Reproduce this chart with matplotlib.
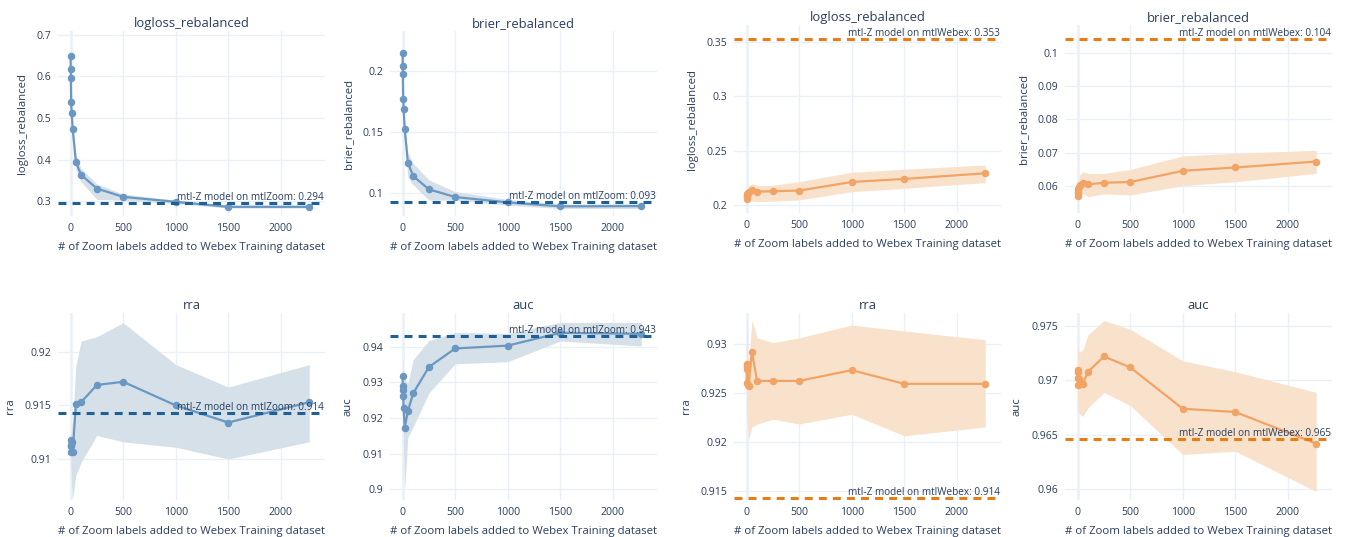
import matplotlib
matplotlib.use("Agg")
import matplotlib.pyplot as plt
import matplotlib.transforms as mtransforms
from matplotlib.ticker import FuncFormatter

plt.rcParams["font.family"] = ["Open Sans", "DejaVu Sans"]

# number of Zoom labels added
x_labels = [0, 1, 2, 5, 10, 20, 50, 100, 250, 500, 1000, 1500, 2270]

# --- evaluated on mtlZoom (blue) ---
zoom_logloss = [0.649, 0.618, 0.597, 0.538, 0.513, 0.473, 0.394, 0.363, 0.330, 0.310, 0.298, 0.286, 0.286]
zoom_logloss_hi = [0.652, 0.622, 0.602, 0.545, 0.522, 0.485, 0.412, 0.378, 0.341, 0.317, 0.302, 0.290, 0.290]
zoom_logloss_lo = [0.646, 0.614, 0.592, 0.531, 0.504, 0.461, 0.376, 0.346, 0.304, 0.302, 0.294, 0.283, 0.283]

zoom_brier = [0.2144, 0.2041, 0.1978, 0.1771, 0.1689, 0.1522, 0.1251, 0.1142, 0.1033, 0.0970, 0.0926, 0.0894, 0.0896]
zoom_brier_hi = [0.2155, 0.2055, 0.1995, 0.1795, 0.1720, 0.1570, 0.1330, 0.1245, 0.1110, 0.1014, 0.0950, 0.0912, 0.0915]
zoom_brier_lo = [0.2133, 0.2027, 0.1961, 0.1747, 0.1658, 0.1474, 0.1130, 0.1070, 0.0945, 0.0945, 0.0903, 0.0877, 0.0877]

zoom_rra = [0.9113, 0.9118, 0.9107, 0.9112, 0.9116, 0.9107, 0.9151, 0.9153, 0.9169, 0.9172, 0.9150, 0.9134, 0.9153]
zoom_rra_hi = [0.9120, 0.9125, 0.9118, 0.9125, 0.9130, 0.9135, 0.9187, 0.9210, 0.9214, 0.9227, 0.9188, 0.9167, 0.9188]
zoom_rra_lo = [0.9106, 0.9110, 0.9096, 0.9090, 0.9075, 0.9063, 0.9085, 0.9097, 0.9122, 0.9116, 0.9111, 0.9100, 0.9116]

zoom_auc = [0.9318, 0.9291, 0.9279, 0.9262, 0.9227, 0.9173, 0.9219, 0.9269, 0.9343, 0.9395, 0.9403, 0.9439, 0.9436]
zoom_auc_hi = [0.9363, 0.9350, 0.9340, 0.9330, 0.9320, 0.9310, 0.9297, 0.9363, 0.9417, 0.9440, 0.9437, 0.9468, 0.9468]
zoom_auc_lo = [0.9275, 0.9230, 0.9200, 0.9180, 0.9100, 0.9000, 0.9146, 0.9175, 0.9270, 0.9352, 0.9358, 0.9416, 0.9402]

# --- evaluated on mtlWebex (orange) ---
webex_logloss = [0.2052, 0.2070, 0.2085, 0.2100, 0.2110, 0.2120, 0.2138, 0.2122, 0.2126, 0.2132, 0.2211, 0.2239, 0.2291]
webex_logloss_hi = [0.2085, 0.2100, 0.2120, 0.2140, 0.2160, 0.2180, 0.2193, 0.2180, 0.2180, 0.2214, 0.2300, 0.2328, 0.2367]
webex_logloss_lo = [0.2020, 0.2040, 0.2050, 0.2060, 0.2065, 0.2065, 0.2035, 0.2030, 0.2035, 0.2046, 0.2122, 0.2153, 0.2205]

webex_brier = [0.0570, 0.0577, 0.0582, 0.0590, 0.0597, 0.0602, 0.0609, 0.0604, 0.0609, 0.0611, 0.0645, 0.0655, 0.0673]
webex_brier_hi = [0.0580, 0.0588, 0.0596, 0.0608, 0.0620, 0.0632, 0.0642, 0.0637, 0.0637, 0.0649, 0.0690, 0.0698, 0.0707]
webex_brier_lo = [0.0560, 0.0566, 0.0568, 0.0572, 0.0574, 0.0575, 0.0576, 0.0567, 0.0575, 0.0572, 0.0600, 0.0612, 0.0637]

webex_rra = [0.9260, 0.9279, 0.9274, 0.9277, 0.9258, 0.9257, 0.9292, 0.9262, 0.9262, 0.9262, 0.9273, 0.9259, 0.9259]
webex_rra_hi = [0.9322, 0.9320, 0.9315, 0.9310, 0.9290, 0.9280, 0.9324, 0.9306, 0.9301, 0.9306, 0.9319, 0.9313, 0.9304]
webex_rra_lo = [0.9235, 0.9238, 0.9230, 0.9225, 0.9215, 0.9202, 0.9215, 0.9218, 0.9223, 0.9218, 0.9228, 0.9206, 0.9215]

webex_auc = [0.9710, 0.9708, 0.9702, 0.9696, 0.9701, 0.9697, 0.9697, 0.9708, 0.9722, 0.9712, 0.9674, 0.9671, 0.9642]
webex_auc_hi = [0.9731, 0.9730, 0.9729, 0.9728, 0.9727, 0.9726, 0.9728, 0.9742, 0.9755, 0.9747, 0.9718, 0.9708, 0.9689]
webex_auc_lo = [0.9679, 0.9677, 0.9675, 0.9672, 0.9670, 0.9669, 0.9667, 0.9675, 0.9689, 0.9677, 0.9632, 0.9635, 0.9598]

# reference mtl-Z model scores
zoom_baseline = {"logloss_rebalanced": 0.2944, "brier_rebalanced": 0.0932, "rra": 0.9143, "auc": 0.9430}
webex_baseline = {"logloss_rebalanced": 0.3527, "brier_rebalanced": 0.1042, "rra": 0.91425, "auc": 0.9646}

TEXT = "#2a3f5f"
GRID = "#ebf0f8"
BLUE = "#6a98c2"
BLUE_FILL = "#d5e0e9"
BLUE_DASH = "#1f6096"
ORANGE = "#f1a465"
ORANGE_FILL = "#f9e2cc"
ORANGE_DASH = "#e97d14"

W, H = 1347, 537
fig = plt.figure(figsize=(W / 100, H / 100), dpi=100)

cols = [(58, 325), (390, 657), (734, 1001), (1065, 1332)]
# (top, bottom) in pixels: left half (zoom) and right half (webex) differ slightly
rows_zoom = [(31, 216), (313, 500)]
rows_webex = [(25, 213), (313, 500)]

panels = [
    # (row, col, metric, mean, hi, lo, ylim, yticks, which dataset)
    (0, 0, "logloss_rebalanced", zoom_logloss, zoom_logloss_hi, zoom_logloss_lo,
     (0.2639, 0.7096), [0.3, 0.4, 0.5, 0.6, 0.7], "zoom"),
    (0, 1, "brier_rebalanced", zoom_brier, zoom_brier_hi, zoom_brier_lo,
     (0.0815, 0.2327), [0.1, 0.15, 0.2], "zoom"),
    (0, 2, "logloss_rebalanced", webex_logloss, webex_logloss_hi, webex_logloss_lo,
     (0.1926, 0.3653), [0.2, 0.25, 0.3, 0.35], "webex"),
    (0, 3, "brier_rebalanced", webex_brier, webex_brier_hi, webex_brier_lo,
     (0.05175, 0.10855), [0.06, 0.07, 0.08, 0.09, 0.1], "webex"),
    (1, 0, "rra", zoom_rra, zoom_rra_hi, zoom_rra_lo,
     (0.90618, 0.92361), [0.91, 0.915, 0.92], "zoom"),
    (1, 1, "auc", zoom_auc, zoom_auc_hi, zoom_auc_lo,
     (0.897, 0.94945), [0.9, 0.91, 0.92, 0.93, 0.94], "zoom"),
    (1, 2, "rra", webex_rra, webex_rra_hi, webex_rra_lo,
     (0.91405, 0.93313), [0.915, 0.92, 0.925, 0.93], "webex"),
    (1, 3, "auc", webex_auc, webex_auc_hi, webex_auc_lo,
     (0.95902, 0.97619), [0.96, 0.965, 0.97, 0.975], "webex"),
]

fmt = FuncFormatter(lambda v, pos: ("%.4f" % v).rstrip("0").rstrip("."))

for r, c, metric, mean, hi, lo, ylim, yticks, which in panels:
    left, right = cols[c]
    top, bottom = (rows_zoom if which == "zoom" else rows_webex)[r]
    ax = fig.add_axes([left / W, 1 - bottom / H, (right - left) / W, (bottom - top) / H])

    if which == "zoom":
        line_c, fill_c, dash_c = BLUE, BLUE_FILL, BLUE_DASH
        base = zoom_baseline[metric]
        label = "mtl-Z model on mtlZoom: %.3f" % base
    else:
        line_c, fill_c, dash_c = ORANGE, ORANGE_FILL, ORANGE_DASH
        base = webex_baseline[metric]
        label = "mtl-Z model on mtlWebex: %.3f" % base

    ax.fill_between(x_labels, lo, hi, color=fill_c, lw=0, zorder=2)
    ax.plot(x_labels, mean, color=line_c, lw=1.6, marker="o", ms=4.4, zorder=3)
    ax.axhline(base, color=dash_c, lw=2.2, dashes=(2.6, 2.0), zorder=4)
    trans = mtransforms.blended_transform_factory(ax.transAxes, ax.transData)
    ax.text(0.995, base, label, transform=trans, ha="right", va="bottom",
            fontsize=7.2, color=TEXT, zorder=5)

    ax.set_xlim(-120, 2420)
    ax.set_ylim(*ylim)
    ax.set_xticks([0, 500, 1000, 1500, 2000])
    ax.set_yticks(yticks)
    ax.yaxis.set_major_formatter(fmt)
    ax.axvline(0, color=GRID, lw=1.8, zorder=1)
    ax.grid(True, color=GRID, lw=1, zorder=0)
    ax.set_axisbelow(True)
    for s in ax.spines.values():
        s.set_visible(False)
    ax.tick_params(length=0, labelsize=7.6, labelcolor=TEXT, pad=5)

    ax.set_title(metric, fontsize=9.4, color=TEXT, pad=3)
    ax.set_ylabel(metric, fontsize=8.2, color=TEXT, labelpad=6)
    ax.set_xlabel("# of Zoom labels added to Webex Training dataset",
                  fontsize=8.2, color=TEXT, labelpad=6)

fig.savefig("out.png", dpi=100, facecolor="white")
